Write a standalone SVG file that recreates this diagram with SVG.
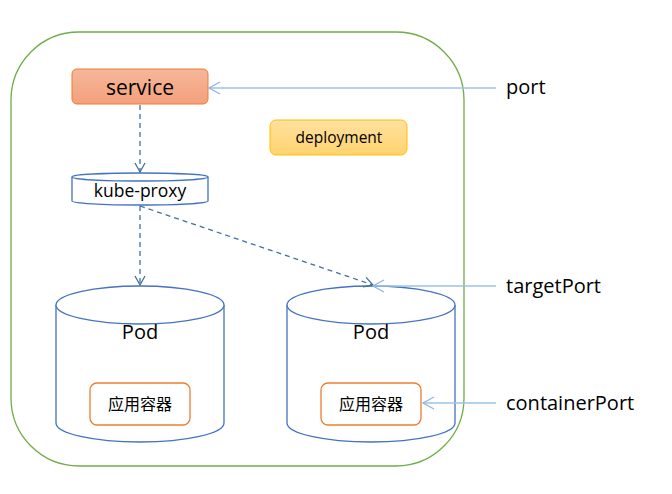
<svg xmlns="http://www.w3.org/2000/svg" width="672" height="494" viewBox="0 0 672 494">
<style>
text{font-family:"Open Sans","Noto Sans CJK SC",sans-serif;fill:#000}
.cjk{font-family:"Noto Sans CJK SC",sans-serif}
.cyl{fill:#fff;stroke:#4472C4;stroke-width:1.3}
.dash{stroke:#41719C;stroke-width:1.3;stroke-dasharray:5,4;fill:none}
.port{stroke:#9DC3E6;stroke-width:1.5;fill:none}
.app{fill:#fff;stroke:#ED7D31;stroke-width:1.3}
.lbl{font-size:20px}
</style>
<defs>
<linearGradient id="gOrange" x1="0" y1="0" x2="0" y2="1"><stop offset="0" stop-color="#F5B79A"/><stop offset="1" stop-color="#F4A07C"/></linearGradient>
<linearGradient id="gYellow" x1="0" y1="0" x2="0" y2="1"><stop offset="0" stop-color="#FFE09F"/><stop offset="1" stop-color="#FFD36E"/></linearGradient>
<marker id="aDark" markerWidth="12" markerHeight="12" refX="10" refY="6" orient="auto" markerUnits="userSpaceOnUse"><path d="M1,1 L10,6 L1,11" fill="none" stroke="#41719C" stroke-width="1.3"/></marker>
<marker id="aLight" markerWidth="14" markerHeight="14" refX="12" refY="7" orient="auto" markerUnits="userSpaceOnUse"><path d="M1,1 L12,7 L1,13" fill="none" stroke="#8FB4E3" stroke-width="1.3"/></marker>
</defs>
<rect width="672" height="494" fill="#fff"/>
<g id="cluster"><rect x="11" y="32" width="453" height="434" rx="68" fill="none" stroke="#70AD47" stroke-width="1.3"/></g>
<g id="service"><rect x="72" y="69" width="136" height="35" rx="5" fill="url(#gOrange)" stroke="#ED7D31" stroke-width="1"/><text x="140" y="95" font-size="21" text-anchor="middle">service</text></g>
<g id="deployment"><rect x="270" y="120" width="137" height="35" rx="6" fill="url(#gYellow)" stroke="#FFC000" stroke-width="1"/><text x="339" y="143" font-size="15.5" text-anchor="middle">deployment</text></g>
<g id="kube-proxy"><path class="cyl" d="M72,177 A68,4 0 0 1 208,177 V201 A68,4 0 0 1 72,201 Z"/><path class="cyl" fill="none" d="M72,177 A68,4 0 0 0 208,177"/><text x="140" y="197" font-size="17.5" text-anchor="middle">kube-proxy</text></g>
<g id="pod1"><path class="cyl" d="M56,305 A84,19 0 0 1 224,305 V423 A84,19 0 0 1 56,423 Z"/><path class="cyl" fill="none" d="M56,305 A84,19 0 0 0 224,305"/><text x="140" y="339" font-size="20" text-anchor="middle">Pod</text>
<rect class="app" x="90" y="383" width="100" height="42" rx="7"/><text class="cjk" x="140" y="410" font-size="16" text-anchor="middle">应用容器</text></g>
<g id="pod2"><path class="cyl" d="M287,305 A84,19 0 0 1 455,305 V423 A84,19 0 0 1 287,423 Z"/><path class="cyl" fill="none" d="M287,305 A84,19 0 0 0 455,305"/><text x="371" y="339" font-size="20" text-anchor="middle">Pod</text>
<rect class="app" x="321" y="383" width="100" height="42" rx="7"/><text class="cjk" x="371" y="410" font-size="16" text-anchor="middle">应用容器</text></g>
<g id="labels"><text class="lbl" x="506" y="94">port</text><text class="lbl" x="506" y="293">targetPort</text><text class="lbl" x="506" y="410">containerPort</text></g>
<g id="connectors">
<line class="dash" x1="140" y1="105" x2="140" y2="172" marker-end="url(#aDark)"/>
<line class="dash" x1="140" y1="206" x2="140" y2="285" marker-end="url(#aDark)"/>
<line class="dash" x1="140" y1="206" x2="373" y2="285" marker-end="url(#aDark)"/>
<line class="port" x1="496" y1="88" x2="209" y2="88" marker-end="url(#aLight)"/>
<line class="port" x1="496" y1="286" x2="373" y2="286" marker-end="url(#aLight)"/>
<line class="port" x1="496" y1="403" x2="423" y2="403" marker-end="url(#aLight)"/>
</g>
</svg>
